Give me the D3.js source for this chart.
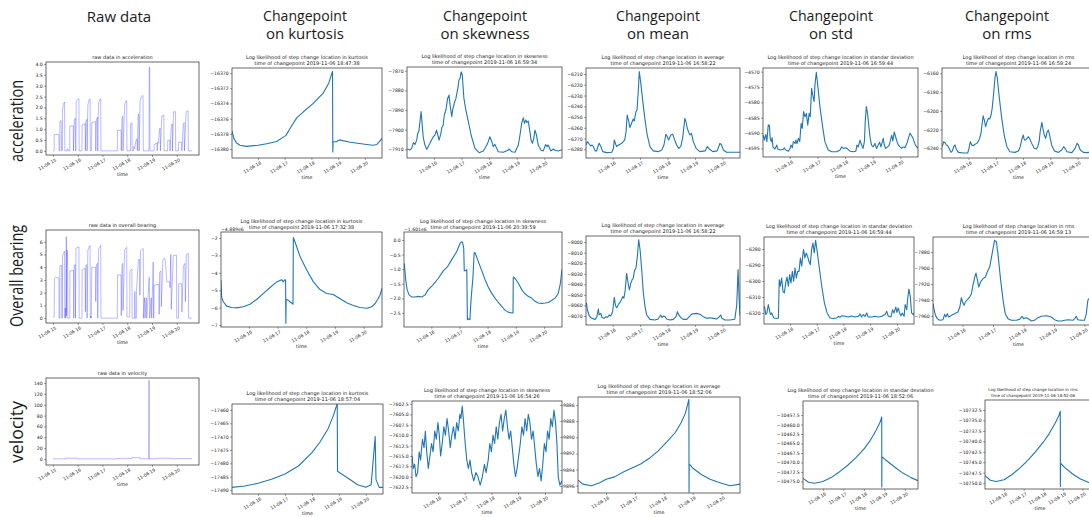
<!DOCTYPE html>
<html>
<head>
<meta charset="utf-8">
<script src="https://cdn.jsdelivr.net/npm/d3@7"></script>
<style>
  body { margin: 0; background: #fff; overflow: hidden; }
  svg { display: block; }
  text { font-family: "DejaVu Sans", sans-serif; fill: #222; }
  .hdr { font-family: "Open Sans", sans-serif; fill: #1a1a1a; }
</style>
</head>
<body>
<svg id="fig" width="1089" height="517"></svg>
<script>
// all series: [hour of day on 2019-11-06, value]

// ---- acceleration ----
const accRaw = [[15.00,0],[15.05,0],[15.05,0.75],[15.24,0.75],[15.25,0],[15.28,0],[15.28,1.35],[15.33,1.4],[15.35,0],[15.38,0],[15.39,1.9],[15.42,2.15],[15.47,2.25],[15.48,0],[15.57,0],[15.58,0.1],[15.62,0.05],[15.63,0],[15.68,0],[15.68,1.15],[15.82,1.15],[15.83,0],[15.86,1.4],[15.90,1.5],[15.91,0],[15.93,0],[15.94,2.3],[16.05,2.4],[16.06,0],[16.17,0],[16.18,1.2],[16.30,1.25],[16.31,0],[16.33,1.35],[16.37,1.45],[16.38,0],[16.41,2.1],[16.46,2.35],[16.50,2.4],[16.51,0],[16.56,0],[16.57,1.3],[16.72,1.35],[16.73,0],[16.76,1.45],[16.80,1.55],[16.81,0],[16.84,2.2],[16.90,2.35],[16.93,2.4],[16.94,0],[17.60,0],[17.61,0.95],[17.75,0.95],[17.76,0],[17.79,1.5],[17.82,1.6],[17.83,0],[17.90,2.15],[17.95,2.3],[17.98,2.3],[17.99,0],[18.13,0],[18.14,1.25],[18.19,1.3],[18.20,0],[18.25,0],[18.26,0.2],[18.30,0.1],[18.36,0.5],[18.40,0.55],[18.41,0],[18.44,1.65],[18.47,1.7],[18.48,0],[18.52,2.3],[18.58,2.5],[18.64,2.55],[18.65,0],[18.88,0],[18.89,3.85],[18.91,3.85],[18.92,0],[19.08,0],[19.09,0.3],[19.20,0.35],[19.21,0],[19.23,0.4],[19.26,0.35],[19.30,0.95],[19.33,1.05],[19.34,0],[19.40,1.6],[19.48,1.65],[19.49,0],[19.63,0],[19.64,0.5],[19.72,0.5],[19.73,0],[19.78,1.15],[19.82,1.25],[19.83,0],[19.87,1.8],[19.95,1.8],[19.96,0],[20.07,0],[20.08,0.4],[20.20,0.4],[20.21,0],[20.26,1.2],[20.30,1.3],[20.31,0],[20.38,1.8],[20.46,1.85],[20.47,0],[20.62,0]]

const accKurt = [[15.03,-16377.6],[15.1,-16378.6],[15.2,-16379.2],[15.33,-16379.5],[15.58,-16379.65],[16.0,-16379.5],[16.33,-16379.3],[16.7,-16379.0],[17.05,-16378.2],[17.2,-16377.3],[17.45,-16375.9],[17.7,-16375.1],[18.07,-16374.0],[18.45,-16372.6],[18.65,-16371.3],[18.79,-16369.8],[18.80,-16380.4],[18.81,-16379.0],[18.95,-16379.05],[18.98,-16378.9],[19.05,-16378.8],[19.45,-16379.1],[20.07,-16379.4],[20.3,-16379.5],[20.45,-16379.4],[20.55,-16379.0],[20.64,-16378.6]]

const accSkew = [[15.04,-7909.8],[15.14,-7910.3],[15.20,-7909.5],[15.26,-7906.6],[15.32,-7907.5],[15.38,-7905.3],[15.42,-7901.9],[15.46,-7900.7],[15.50,-7895.9],[15.54,-7890.8],[15.58,-7897.6],[15.62,-7904.1],[15.68,-7907.8],[15.74,-7910.0],[15.80,-7908.6],[15.92,-7905.3],[15.98,-7903.6],[16.04,-7902.7],[16.10,-7900.2],[16.14,-7902.4],[16.19,-7905.3],[16.25,-7902.4],[16.29,-7899.0],[16.34,-7897.6],[16.38,-7892.5],[16.44,-7890.0],[16.50,-7884.1],[16.55,-7882.4],[16.59,-7887.5],[16.65,-7893.4],[16.68,-7890.0],[16.74,-7886.6],[16.80,-7884.1],[16.87,-7879.0],[16.91,-7874.7],[16.95,-7873.9],[16.99,-7870.5],[17.03,-7872.2],[17.09,-7884.1],[17.15,-7889.2],[17.25,-7895.9],[17.35,-7902.7],[17.49,-7909.5],[17.64,-7911.7],[17.79,-7910.8],[17.92,-7907.8],[17.97,-7906.1],[18.03,-7903.6],[18.10,-7906.1],[18.15,-7908.6],[18.21,-7907.5],[18.28,-7909.5],[18.33,-7911.2],[18.52,-7911.5],[18.68,-7910.5],[18.72,-7909.8],[18.82,-7911.2],[18.94,-7911.5],[19.06,-7907.8],[19.12,-7902.7],[19.18,-7896.8],[19.24,-7893.9],[19.28,-7896.8],[19.33,-7895.1],[19.37,-7896.3],[19.42,-7895.6],[19.47,-7900.2],[19.52,-7905.3],[19.57,-7906.9],[19.62,-7904.4],[19.66,-7900.2],[19.71,-7902.4],[19.78,-7907.8],[19.88,-7910.5],[19.96,-7910.8],[20.05,-7907.5],[20.10,-7908.6],[20.14,-7907.8],[20.24,-7910.8],[20.33,-7909.8],[20.39,-7910.5],[20.50,-7910.8],[20.64,-7910.2]]

const accMean = [[15.03,-6276.0],[15.08,-6272.9],[15.15,-6275.3],[15.20,-6276.9],[15.25,-6276.0],[15.30,-6277.5],[15.36,-6281.5],[15.42,-6281.5],[15.48,-6276.0],[15.51,-6274.4],[15.57,-6277.5],[15.64,-6282.2],[15.78,-6283.1],[15.97,-6282.8],[16.03,-6279.1],[16.06,-6271.3],[16.11,-6275.3],[16.15,-6277.5],[16.21,-6276.0],[16.27,-6275.3],[16.33,-6274.4],[16.39,-6272.9],[16.44,-6271.3],[16.49,-6263.6],[16.53,-6248.1],[16.59,-6254.3],[16.63,-6259.9],[16.69,-6255.8],[16.75,-6251.8],[16.79,-6253.7],[16.85,-6245.0],[16.89,-6243.4],[16.94,-6223.3],[16.97,-6207.8],[17.02,-6217.1],[17.10,-6235.7],[17.18,-6252.7],[17.26,-6266.7],[17.36,-6277.5],[17.48,-6281.5],[17.66,-6282.2],[17.79,-6280.6],[17.87,-6276.0],[17.94,-6266.1],[17.99,-6268.2],[18.04,-6271.3],[18.12,-6266.7],[18.19,-6266.1],[18.26,-6271.3],[18.33,-6276.0],[18.41,-6279.1],[18.48,-6277.5],[18.55,-6269.8],[18.63,-6251.2],[18.67,-6254.3],[18.72,-6260.5],[18.77,-6264.2],[18.82,-6266.7],[18.87,-6265.1],[18.94,-6272.9],[19.04,-6279.1],[19.18,-6282.2],[19.37,-6281.5],[19.45,-6277.5],[19.52,-6279.7],[19.65,-6282.2],[19.81,-6281.5],[19.91,-6274.4],[19.97,-6276.0],[20.03,-6280.6],[20.15,-6282.8],[20.27,-6282.8],[20.64,-6282.8]]

const accStd = [[15.04,-4590.7],[15.08,-4592.3],[15.13,-4590.4],[15.17,-4592.8],[15.22,-4587.4],[15.26,-4587.4],[15.29,-4591.7],[15.33,-4592.8],[15.36,-4591.5],[15.39,-4594.5],[15.46,-4595.2],[15.53,-4593.9],[15.56,-4595.2],[15.65,-4595.5],[15.77,-4595.3],[15.80,-4594.8],[15.85,-4595.5],[15.95,-4595.9],[16.01,-4595.0],[16.04,-4593.9],[16.09,-4594.8],[16.13,-4592.8],[16.19,-4593.4],[16.22,-4592.3],[16.26,-4593.4],[16.31,-4591.7],[16.36,-4592.8],[16.41,-4586.8],[16.45,-4588.5],[16.50,-4583.0],[16.55,-4584.7],[16.60,-4583.6],[16.65,-4587.4],[16.70,-4583.6],[16.74,-4584.7],[16.79,-4575.4],[16.83,-4577.6],[16.88,-4579.8],[16.91,-4574.3],[16.96,-4570.2],[17.01,-4574.3],[17.09,-4581.3],[17.18,-4587.4],[17.27,-4592.8],[17.39,-4595.5],[17.52,-4596.1],[17.70,-4596.1],[17.82,-4595.5],[17.88,-4594.5],[17.94,-4595.0],[18.02,-4594.8],[18.10,-4595.2],[18.18,-4595.9],[18.30,-4596.1],[18.39,-4595.9],[18.43,-4593.9],[18.48,-4594.5],[18.54,-4592.3],[18.60,-4593.9],[18.65,-4595.0],[18.70,-4592.8],[18.73,-4586.3],[18.77,-4581.4],[18.82,-4584.1],[18.87,-4588.5],[18.91,-4591.7],[18.96,-4593.9],[19.02,-4594.5],[19.08,-4593.4],[19.14,-4595.0],[19.20,-4593.9],[19.25,-4593.0],[19.30,-4594.5],[19.35,-4592.8],[19.38,-4591.7],[19.42,-4593.9],[19.47,-4595.0],[19.54,-4594.5],[19.60,-4593.9],[19.63,-4592.8],[19.69,-4590.7],[19.73,-4592.6],[19.78,-4589.6],[19.83,-4591.2],[19.88,-4592.8],[19.93,-4593.9],[19.99,-4594.5],[20.05,-4595.0],[20.11,-4594.5],[20.17,-4594.8],[20.25,-4593.0],[20.35,-4590.0],[20.45,-4591.5],[20.55,-4594.0],[20.64,-4595.0]]

const accRms = [[15.04,-6238.2],[15.09,-6232.9],[15.14,-6234.0],[15.19,-6236.4],[15.24,-6237.2],[15.29,-6240.0],[15.36,-6244.3],[15.41,-6242.8],[15.46,-6238.2],[15.51,-6236.4],[15.55,-6240.7],[15.63,-6244.3],[15.81,-6245.0],[15.97,-6245.0],[16.02,-6240.0],[16.07,-6232.9],[16.12,-6236.4],[16.17,-6237.2],[16.24,-6235.7],[16.31,-6234.7],[16.39,-6231.1],[16.46,-6224.0],[16.51,-6211.6],[16.54,-6205.2],[16.58,-6209.8],[16.63,-6216.9],[16.68,-6211.6],[16.73,-6208.0],[16.78,-6208.7],[16.83,-6204.4],[16.87,-6197.3],[16.93,-6179.6],[16.97,-6165.3],[17.01,-6158.2],[17.06,-6165.3],[17.12,-6183.1],[17.22,-6208.0],[17.31,-6225.8],[17.41,-6238.2],[17.52,-6243.6],[17.71,-6244.3],[17.83,-6242.8],[17.90,-6238.2],[17.95,-6231.1],[18.01,-6225.8],[18.05,-6231.1],[18.10,-6231.1],[18.15,-6229.3],[18.20,-6227.6],[18.25,-6230.0],[18.32,-6234.7],[18.41,-6240.0],[18.49,-6240.7],[18.54,-6238.2],[18.59,-6232.9],[18.63,-6222.2],[18.69,-6212.3],[18.73,-6218.7],[18.78,-6225.8],[18.83,-6229.3],[18.88,-6222.9],[18.93,-6220.4],[18.98,-6226.5],[19.05,-6236.4],[19.15,-6242.8],[19.30,-6244.3],[19.42,-6241.8],[19.49,-6238.2],[19.54,-6240.0],[19.61,-6243.6],[19.79,-6244.6],[19.91,-6240.0],[19.98,-6234.7],[20.03,-6236.4],[20.10,-6241.8],[20.21,-6244.3],[20.34,-6244.6],[20.42,-6244.3],[20.64,-6244.6]]

// ---- overall bearing ----
const brgRaw = [[15.00,0.1],[15.05,0.1],[15.06,3.1],[15.10,3.2],[15.24,3.15],[15.25,0],[15.28,0],[15.28,4.1],[15.35,4.15],[15.36,0],[15.38,0],[15.39,4.9],[15.43,5.1],[15.47,5.25],[15.48,0],[15.50,0.8],[15.52,0],[15.54,6.4],[15.55,0.2],[15.57,5.35],[15.59,5.3],[15.60,0],[15.68,0],[15.69,3.7],[15.83,3.75],[15.84,0],[15.86,4.15],[15.90,4.2],[15.91,0],[15.93,5.5],[16.05,5.6],[16.06,0],[16.17,0],[16.18,3.8],[16.30,3.9],[16.31,0.5],[16.33,4.15],[16.37,4.2],[16.38,0],[16.41,5.3],[16.46,5.6],[16.50,5.7],[16.51,0],[16.53,0.15],[16.55,0],[16.57,4.0],[16.72,4.0],[16.73,1.3],[16.76,4.2],[16.80,4.3],[16.81,0],[16.84,5.4],[16.90,5.6],[16.93,5.7],[16.94,0],[17.60,0],[17.61,3.4],[17.75,3.4],[17.76,0.2],[17.79,4.25],[17.82,4.3],[17.83,0.6],[17.90,5.4],[17.95,5.5],[17.98,5.55],[17.99,0.1],[18.10,0.1],[18.11,3.7],[18.19,3.85],[18.20,0],[18.30,0],[18.31,2.1],[18.32,0],[18.37,0],[18.38,2.4],[18.40,2.9],[18.45,4.6],[18.50,4.6],[18.51,1.8],[18.54,5.3],[18.60,5.4],[18.65,5.45],[18.66,0],[18.70,1.6],[18.72,0],[18.77,1.6],[18.79,0],[18.89,3.2],[18.91,0],[18.97,1.6],[18.99,0],[19.05,4.4],[19.07,0],[19.09,2.6],[19.28,2.65],[19.29,0.3],[19.31,3.6],[19.36,3.7],[19.38,0.9],[19.44,4.6],[19.52,4.7],[19.55,4.3],[19.60,2.85],[19.72,2.85],[19.73,2.4],[19.76,5.0],[19.78,0.7],[19.86,4.9],[19.99,4.95],[20.00,0],[20.07,0],[20.08,2.7],[20.20,2.7],[20.21,0.5],[20.27,4.1],[20.33,4.3],[20.35,1.3],[20.39,5.0],[20.47,5.1],[20.48,0],[20.62,0]]

const brgKurt = [[15.03,-4.42],[15.05,-5.38],[15.11,-5.66],[15.23,-5.91],[15.40,-5.99],[15.58,-6.01],[15.81,-5.95],[16.04,-5.80],[16.27,-5.53],[16.50,-5.19],[16.74,-4.84],[16.97,-4.52],[17.14,-4.39],[17.20,-4.52],[17.24,-4.42],[17.26,-4.39],[17.28,-4.42],[17.29,-6.90],[17.30,-5.57],[17.32,-5.53],[17.37,-5.57],[17.43,-5.66],[17.51,-5.76],[17.54,-5.80],[17.55,-1.98],[17.61,-2.23],[17.78,-3.05],[18.02,-3.85],[18.25,-4.52],[18.48,-4.96],[18.71,-5.19],[18.94,-5.24],[19.18,-5.49],[19.41,-5.72],[19.64,-5.87],[19.87,-5.99],[20.11,-6.03],[20.28,-5.95],[20.40,-5.76],[20.51,-5.47],[20.57,-5.28],[20.64,-4.9]]

const brgSkew = [[15.04,-0.80],[15.09,-1.36],[15.14,-1.70],[15.21,-1.88],[15.30,-1.95],[15.42,-1.95],[15.54,-1.93],[15.66,-1.95],[15.78,-1.88],[15.89,-1.70],[16.07,-1.53],[16.25,-1.31],[16.43,-1.05],[16.58,-0.91],[16.72,-0.68],[16.90,-0.40],[17.02,-0.11],[17.08,-0.06],[17.11,-0.08],[17.15,-0.28],[17.17,-1.05],[17.22,-1.05],[17.26,-1.02],[17.28,-2.73],[17.31,-2.70],[17.37,-2.73],[17.41,-2.05],[17.44,-1.70],[17.48,-1.25],[17.52,-0.45],[17.55,-0.43],[17.67,-0.74],[17.79,-1.05],[17.91,-1.36],[18.02,-1.61],[18.14,-1.82],[18.26,-1.99],[18.38,-2.14],[18.50,-2.27],[18.62,-2.41],[18.73,-2.47],[18.85,-2.50],[18.90,-2.50],[18.91,-1.27],[18.97,-1.31],[19.09,-1.48],[19.21,-1.70],[19.33,-1.85],[19.44,-1.93],[19.56,-1.99],[19.68,-2.10],[19.80,-2.16],[19.92,-2.17],[20.04,-2.16],[20.15,-2.14],[20.27,-2.07],[20.39,-1.99],[20.50,-1.85],[20.58,-1.5],[20.64,-1.0]]

const brgMean = [[15.03,-8059.6],[15.05,-8058.0],[15.08,-8064.3],[15.15,-8070.0],[15.24,-8072.2],[15.36,-8073.2],[15.42,-8071.3],[15.48,-8063.4],[15.51,-8069.0],[15.57,-8067.5],[15.61,-8071.3],[15.69,-8072.2],[15.76,-8070.6],[15.81,-8071.3],[15.88,-8069.0],[15.93,-8070.0],[16.00,-8065.9],[16.06,-8052.3],[16.11,-8060.5],[16.15,-8062.1],[16.22,-8058.6],[16.29,-8056.4],[16.37,-8051.6],[16.41,-8053.2],[16.46,-8045.3],[16.51,-8029.5],[16.56,-8038.3],[16.61,-8045.3],[16.66,-8039.0],[16.71,-8035.8],[16.75,-8034.2],[16.80,-8026.9],[16.85,-8024.7],[16.90,-8013.6],[16.95,-7997.8],[17.00,-8007.3],[17.06,-8026.3],[17.12,-8048.5],[17.18,-8061.1],[17.24,-8069.0],[17.36,-8073.2],[17.54,-8073.8],[17.66,-8072.8],[17.75,-8069.0],[17.80,-8071.3],[17.85,-8070.0],[17.91,-8070.6],[17.97,-8072.8],[18.09,-8073.8],[18.21,-8073.2],[18.31,-8070.6],[18.36,-8065.9],[18.41,-8069.0],[18.48,-8071.3],[18.57,-8073.2],[18.70,-8073.2],[18.79,-8070.6],[18.88,-8068.2],[19.06,-8067.5],[19.18,-8068.4],[19.30,-8070.6],[19.43,-8072.2],[19.55,-8071.6],[19.67,-8072.2],[19.79,-8072.8],[19.89,-8070.6],[19.94,-8069.0],[19.98,-8072.2],[20.09,-8073.8],[20.27,-8073.8],[20.45,-8073.0],[20.52,-8060.0],[20.57,-8026.0],[20.61,-8055.0],[20.64,-8070.0]]

const brgStd = [[15.04,-6315.8],[15.07,-6317.9],[15.10,-6321.0],[15.14,-6320.0],[15.19,-6314.8],[15.23,-6317.9],[15.27,-6321.0],[15.32,-6320.0],[15.36,-6321.7],[15.40,-6323.1],[15.50,-6323.5],[15.57,-6323.1],[15.60,-6299.2],[15.64,-6303.3],[15.69,-6298.1],[15.74,-6306.5],[15.79,-6307.5],[15.84,-6301.3],[15.89,-6297.5],[15.94,-6303.3],[15.99,-6296.0],[16.04,-6301.3],[16.09,-6294.0],[16.14,-6300.2],[16.19,-6291.9],[16.24,-6298.1],[16.29,-6294.0],[16.34,-6294.0],[16.39,-6285.6],[16.44,-6290.8],[16.49,-6282.5],[16.51,-6280.4],[16.56,-6285.6],[16.61,-6282.5],[16.66,-6284.6],[16.71,-6287.7],[16.76,-6289.8],[16.81,-6280.4],[16.86,-6276.3],[16.91,-6282.5],[16.96,-6274.6],[17.01,-6280.4],[17.09,-6290.8],[17.19,-6303.3],[17.29,-6313.8],[17.39,-6320.0],[17.50,-6323.1],[17.62,-6323.5],[17.75,-6323.1],[17.81,-6322.1],[17.87,-6322.7],[17.94,-6321.7],[18.06,-6322.1],[18.18,-6322.5],[18.31,-6321.9],[18.43,-6322.5],[18.56,-6322.1],[18.62,-6320.6],[18.68,-6322.5],[18.74,-6321.0],[18.81,-6322.1],[18.87,-6320.0],[18.93,-6322.5],[19.06,-6322.5],[19.18,-6322.1],[19.31,-6322.5],[19.43,-6322.1],[19.56,-6321.0],[19.62,-6319.0],[19.68,-6322.1],[19.78,-6322.5],[19.84,-6317.9],[19.89,-6320.0],[19.96,-6316.3],[20.00,-6319.6],[20.05,-6316.9],[20.10,-6320.0],[20.15,-6321.7],[20.20,-6320.0],[20.27,-6322.1],[20.31,-6314.8],[20.37,-6317.9],[20.40,-6311.7],[20.45,-6305.0],[20.50,-6309.6],[20.55,-6320.0],[20.61,-6321.0],[20.64,-6320.0]]

const brgRms = [[15.03,-7944.6],[15.06,-7950.8],[15.11,-7959.2],[15.17,-7963.3],[15.25,-7965.4],[15.36,-7964.6],[15.41,-7957.9],[15.45,-7961.3],[15.50,-7957.1],[15.54,-7961.3],[15.59,-7960.4],[15.63,-7959.2],[15.74,-7957.1],[15.85,-7955.0],[15.91,-7948.8],[15.96,-7937.1],[16.00,-7942.5],[16.05,-7946.7],[16.09,-7942.5],[16.16,-7939.6],[16.23,-7936.3],[16.29,-7932.1],[16.34,-7921.7],[16.40,-7911.3],[16.44,-7906.3],[16.49,-7915.4],[16.53,-7923.8],[16.59,-7917.5],[16.67,-7913.3],[16.75,-7911.3],[16.81,-7905.0],[16.89,-7898.8],[16.94,-7888.3],[17.00,-7875.8],[17.05,-7865.4],[17.11,-7867.5],[17.16,-7882.1],[17.25,-7915.4],[17.33,-7940.4],[17.40,-7957.1],[17.49,-7963.3],[17.60,-7965.4],[17.76,-7965.4],[17.87,-7964.2],[17.95,-7960.4],[18.00,-7963.3],[18.09,-7962.1],[18.17,-7963.8],[18.26,-7966.3],[18.36,-7965.4],[18.47,-7962.1],[18.58,-7960.4],[18.75,-7959.6],[18.91,-7961.3],[19.02,-7964.6],[19.13,-7966.3],[19.24,-7966.3],[19.35,-7965.4],[19.46,-7964.6],[19.62,-7965.4],[19.68,-7963.3],[19.73,-7960.4],[19.78,-7964.6],[19.90,-7965.4],[20.00,-7965.4],[20.06,-7957.1],[20.11,-7940.4],[20.3,-7930.0],[20.64,-7930.0]]

// ---- velocity ----
const velRaw = [[15.00,0.3],[15.50,0.3],[15.50,1.5],[16.00,1.5],[16.00,0.3],[17.60,0.3],[17.60,1.2],[18.20,1.2],[18.20,2.5],[18.50,2.5],[18.50,0.5],[18.87,0.5],[18.88,145],[18.89,0.5],[19.20,0.5],[19.20,1.5],[19.80,1.5],[19.80,0.8],[20.62,0.8]]

const velKurt = [[15.03,-17489],[15.5,-17488.5],[16.0,-17487.5],[16.5,-17486],[17.0,-17484],[17.5,-17481],[18.0,-17476],[18.3,-17472],[18.6,-17467],[18.8,-17462],[18.94,-17457.5],[18.95,-17483],[19.1,-17484],[19.4,-17486],[19.7,-17488],[20.0,-17489],[20.2,-17488],[20.3,-17476],[20.35,-17470],[20.38,-17486],[20.5,-17489],[20.64,-17489]]

const velSkew = [[15.03,-7615],[15.08,-7618],[15.13,-7617],[15.18,-7620],[15.24,-7619],[15.30,-7614],[15.35,-7616],[15.42,-7611],[15.48,-7613],[15.53,-7609],[15.58,-7614],[15.64,-7618],[15.70,-7615],[15.76,-7612],[15.82,-7614],[15.88,-7609],[15.94,-7611],[16.00,-7607],[16.05,-7610],[16.10,-7615],[16.16,-7612],[16.22,-7608],[16.28,-7610],[16.34,-7606],[16.40,-7609],[16.46,-7613],[16.52,-7610],[16.58,-7608],[16.64,-7611],[16.70,-7607],[16.76,-7609],[16.82,-7605],[16.86,-7606],[16.91,-7603],[16.96,-7607],[17.02,-7612],[17.08,-7616],[17.14,-7618],[17.20,-7616],[17.26,-7619],[17.34,-7621],[17.42,-7619],[17.50,-7620],[17.58,-7622],[17.66,-7620],[17.74,-7617],[17.80,-7619],[17.88,-7616],[17.94,-7612],[18.00,-7614],[18.06,-7610],[18.12,-7612],[18.18,-7608],[18.24,-7611],[18.30,-7607],[18.36,-7605],[18.42,-7609],[18.48,-7606],[18.54,-7604],[18.60,-7608],[18.66,-7611],[18.72,-7609],[18.78,-7613],[18.84,-7617],[18.90,-7620],[18.96,-7618],[19.02,-7615],[19.08,-7612],[19.14,-7608],[19.20,-7610],[19.26,-7606],[19.32,-7609],[19.38,-7605],[19.44,-7607],[19.50,-7611],[19.56,-7609],[19.62,-7613],[19.68,-7617],[19.74,-7620],[19.80,-7618],[19.86,-7621],[19.92,-7617],[19.98,-7612],[20.04,-7614],[20.10,-7609],[20.16,-7611],[20.22,-7606],[20.28,-7608],[20.34,-7604],[20.40,-7607],[20.45,-7612],[20.50,-7620],[20.56,-7622],[20.64,-7621]]

const velMean = [[15.03,-9895.3],[15.2,-9895.8],[15.5,-9896.0],[15.8,-9895.6],[16.0,-9895.2],[16.3,-9894.9],[16.6,-9894.3],[16.9,-9893.8],[17.2,-9893.3],[17.5,-9892.6],[17.8,-9891.7],[18.1,-9890.6],[18.4,-9889.4],[18.6,-9888.2],[18.75,-9887.0],[18.87,-9885.3],[18.875,-9896.8],[18.88,-9893.3],[19.0,-9893.8],[19.3,-9894.6],[19.6,-9895.2],[20.0,-9895.7],[20.3,-9896.0],[20.64,-9895.8]]

const velStd = [[15.03,-10474.2],[15.3,-10475.2],[15.6,-10475.5],[16.0,-10475.0],[16.4,-10474.0],[16.8,-10472.5],[17.2,-10470.8],[17.6,-10468.8],[18.0,-10466.5],[18.3,-10464.3],[18.6,-10461.5],[18.8,-10459.3],[18.87,-10458.0],[18.875,-10476.5],[18.88,-10468.5],[19.1,-10469.5],[19.5,-10471.2],[19.9,-10472.8],[20.3,-10474.0],[20.64,-10474.8]]

const velRms = [[15.03,-10748.2],[15.3,-10749.3],[15.6,-10749.6],[16.0,-10749.2],[16.4,-10748.0],[16.8,-10746.4],[17.2,-10744.6],[17.6,-10742.5],[18.0,-10740.2],[18.3,-10738.2],[18.6,-10735.7],[18.8,-10733.8],[18.87,-10732.8],[18.875,-10750.8],[18.88,-10745.2],[19.1,-10746.3],[19.5,-10747.8],[19.9,-10749.0],[20.3,-10749.8],[20.64,-10750.2]]

// ---- text ----
const headers = [["Raw data"], ["Changepoint", "on kurtosis"], ["Changepoint", "on skewness"], ["Changepoint", "on mean"], ["Changepoint", "on std"], ["Changepoint", "on rms"]]
const rowNames = ["acceleration", "Overall bearing", "velocity"]
const hourTicks = [15, 16, 17, 18, 19, 20]
const L = "Log likelihood of step change location in "
const T = "time of changepoint 2019-11-06 "

// layout: header centres, row label centres / lengths
const hdrX = [119, 305, 485, 658, 831, 1007]
const rowLab = [[121, 82], [276, 102], [432, 62]]

const rawSpan = [14.72, 20.9]
const cpSpan = [15.03, 20.64]

const panels = [
  { data: accRaw, raw: true, box: [46, 62, 153, 93], dom: [-0.19, 4.09], ticks: [0,0.5,1,1.5,2,2.5,3,3.5,4], fmt: ".1f", title: ["raw data in acceleration"] },
  { data: accKurt, box: [232, 68, 150, 90], dom: [-16381.18, -16369.34], ticks: [-16370,-16372,-16374,-16376,-16378,-16380], fmt: "d", title: [L + "kurtosis", T + "18:47:38"] },
  { data: accSkew, box: [407, 67, 155, 91], dom: [-7914.4, -7868.1], ticks: [-7870,-7880,-7890,-7900,-7910], fmt: "d", title: [L + "skewness", T + "16:59:34"] },
  { data: accMean, box: [586, 68, 154, 90], dom: [-6288.1, -6204.4], ticks: [-6210,-6220,-6230,-6240,-6250,-6260,-6270,-6280], fmt: "d", title: [L + "average", T + "16:58:22"] },
  { data: accStd, box: [763, 68, 155, 89], dom: [-4597.8, -4568.8], ticks: [-4570,-4575,-4580,-4585,-4590,-4595], fmt: "d", title: [L + "standar deviation", T + "16:59:44"] },
  { data: accRms, box: [942, 68, 153, 90], dom: [-6250.3, -6154.3], ticks: [-6160,-6180,-6200,-6220,-6240], fmt: "d", title: [L + "rms", T + "16:59:24"] },

  { data: brgRaw, raw: true, box: [46, 230, 153, 93], dom: [-0.38, 6.92], ticks: [0,1,2,3,4,5,6], fmt: "d", title: ["raw data in overall bearing"] },
  { data: brgKurt, box: [221, 232, 161, 95], dom: [-7.11, -1.655], ticks: [-2,-3,-4,-5,-6,-7], fmt: "d", title: [L + "kurtosis", T + "17:32:38"], offset: "\u22124.889e6" },
  { data: brgSkew, box: [404, 232, 158, 95], dom: [-2.98, 0.274], ticks: [0,-0.5,-1,-1.5,-2,-2.5], fmt: ".1f", title: [L + "skewness", T + "20:39:59"], offset: "\u22121.601e6" },
  { data: brgMean, box: [586, 236, 154, 89], dom: [-8078.5, -7994.3], ticks: [-8000,-8010,-8020,-8030,-8040,-8050,-8060,-8070], fmt: "d", title: [L + "average", T + "16:58:22"] },
  { data: brgStd, box: [764, 237, 150, 87], dom: [-6326.9, -6272.5], ticks: [-6280,-6290,-6300,-6310,-6320], fmt: "d", title: [L + "standar deviation", T + "16:59:44"] },
  { data: brgRms, box: [933, 237, 171, 88], dom: [-7971.25, -7861.25], ticks: [-7880,-7900,-7920,-7940,-7960], fmt: "d", title: [L + "rms", T + "16:59:13"] },

  { data: velRaw, raw: true, box: [46, 378, 153, 87], dom: [-11, 149.2], ticks: [0,20,40,60,80,100,120,140], fmt: "d", title: ["raw data in velocity"] },
  { data: velKurt, box: [232, 404, 151, 90], dom: [-17491.5, -17457.75], ticks: [-17460,-17465,-17470,-17475,-17480,-17485,-17490], fmt: "d", title: [L + "kurtosis", T + "18:57:04"] },
  { data: velSkew, box: [412, 401, 150, 92], dom: [-7623.9, -7601.8], ticks: [-7602.5,-7605,-7607.5,-7610,-7612.5,-7615,-7617.5,-7620,-7622.5], fmt: ".1f", title: [L + "skewness", T + "16:54:26"] },
  { data: velMean, box: [578, 397, 162, 96], dom: [-9896.9, -9885], ticks: [-9886,-9888,-9890,-9892,-9894,-9896], fmt: "d", title: [L + "average", T + "18:52:06"] },
  { data: velStd, box: [803, 401, 115, 88], dom: [-10477, -10453.8], ticks: [-10457.5,-10460,-10462.5,-10465,-10467.5,-10470,-10472.5,-10475], fmt: ".1f", title: [L + "standar deviation", T + "18:52:06"] },
  { data: velRms, box: [985, 400, 110, 89], dom: [-10751.4, -10730.1], ticks: [-10732.5,-10735,-10737.5,-10740,-10742.5,-10745,-10747.5,-10750], fmt: ".1f", title: [L + "rms", T + "18:52:06"], titleX: 1033, titleSize: 4 }
]

const svg = d3.select("#fig")
const day = new Date(2019, 10, 6)
const toDate = h => new Date(day.getTime() + h * 3600e3)

// column headers
headers.forEach((lines, i) => {
  lines.forEach((s, j) => {
    const t = svg.append("text").attr("class", "hdr")
      .attr("x", hdrX[i]).attr("y", lines.length === 1 ? 22 : 21 + j * 18)
      .attr("text-anchor", "middle").style("font-size", "15px")
      .text(s)
    if (s === "Changepoint") t.attr("textLength", 84).attr("lengthAdjust", "spacingAndGlyphs")
  })
})

// row labels
rowNames.forEach((s, i) => {
  svg.append("text").attr("class", "hdr")
    .attr("transform", `translate(23,${rowLab[i][0]}) rotate(-90)`)
    .attr("text-anchor", "middle").style("font-size", "19px")
    .attr("textLength", rowLab[i][1]).attr("lengthAdjust", "spacingAndGlyphs")
    .text(s)
})

panels.forEach((p, i) => {
  const [x0, y0, w, h] = p.box
  const span = p.raw ? rawSpan : cpSpan
  const xs = d3.scaleTime().domain(span.map(toDate)).range([x0, x0 + w])
  const ys = d3.scaleLinear().domain(p.dom).range([y0 + h, y0])
  const g = svg.append("g")

  g.append("clipPath").attr("id", "c" + i).append("rect")
    .attr("x", x0).attr("y", y0).attr("width", w).attr("height", h)

  const line = d3.line().x(d => xs(toDate(d[0]))).y(d => ys(d[1]))
  if (p.raw) {
    // separate segments so overlapping strokes get darker, like alpha lines
    g.append("g").attr("clip-path", `url(#c${i})`)
      .selectAll("path").data(d3.pairs(p.data)).join("path")
      .attr("d", line).attr("fill", "none")
      .attr("stroke", "#0000ff").attr("stroke-opacity", 0.3).attr("stroke-width", 0.9)
  } else {
    g.append("path").datum(p.data).attr("clip-path", `url(#c${i})`)
      .attr("d", line).attr("fill", "none")
      .attr("stroke", "#1f77b4").attr("stroke-width", 1.1)
      .attr("stroke-linejoin", "round")
  }

  g.append("rect").attr("x", x0).attr("y", y0).attr("width", w).attr("height", h)
    .attr("fill", "none").attr("stroke", "#444").attr("stroke-width", 0.8)

  const yAxis = d3.axisLeft(ys).tickValues(p.ticks)
    .tickFormat(d3.format(p.fmt)).tickSize(1.8).tickPadding(1.5)
  const yg = g.append("g").attr("transform", `translate(${x0},0)`).call(yAxis)
  yg.select(".domain").remove()
  yg.selectAll("line").attr("stroke", "#444").attr("stroke-width", 0.6)
  yg.selectAll("text").style("font-size", "4.6px").attr("fill", "#222")
    .style("font-family", "DejaVu Sans")

  const tv = hourTicks.map(toDate).filter(d => d >= xs.domain()[0] && d <= xs.domain()[1])
  const xAxis = d3.axisBottom(xs).tickValues(tv)
    .tickFormat(d3.timeFormat("%m-%d %H")).tickSize(1.8)
  const xg = g.append("g").attr("transform", `translate(0,${y0 + h})`).call(xAxis)
  xg.select(".domain").remove()
  xg.selectAll("line").attr("stroke", "#444").attr("stroke-width", 0.6)
  xg.selectAll("text").style("font-size", "4.4px").attr("fill", "#222")
    .style("font-family", "DejaVu Sans")
    .attr("y", 0).attr("dy", "0.75em").attr("text-anchor", "end")
    .attr("transform", "translate(1.5,3) rotate(-30)")

  g.append("text").attr("x", x0 + w / 2).attr("y", y0 + h + 21)
    .attr("text-anchor", "middle").style("font-size", "4.8px").text("time")

  const tl = p.title
  const tx = p.titleX || x0 + w / 2
  const fs = p.titleSize || 5
  tl.forEach((s, j) => {
    g.append("text").attr("x", tx)
      .attr("y", tl.length === 1 ? y0 - 3 : y0 - 9.5 + j * 6.6)
      .attr("text-anchor", "middle").style("font-size", fs + "px").text(s)
  })
  if (p.offset) {
    g.append("text").attr("x", x0).attr("y", y0 - 1.5)
      .style("font-size", "4.6px").text(p.offset)
  }
})
</script>
</body>
</html>
